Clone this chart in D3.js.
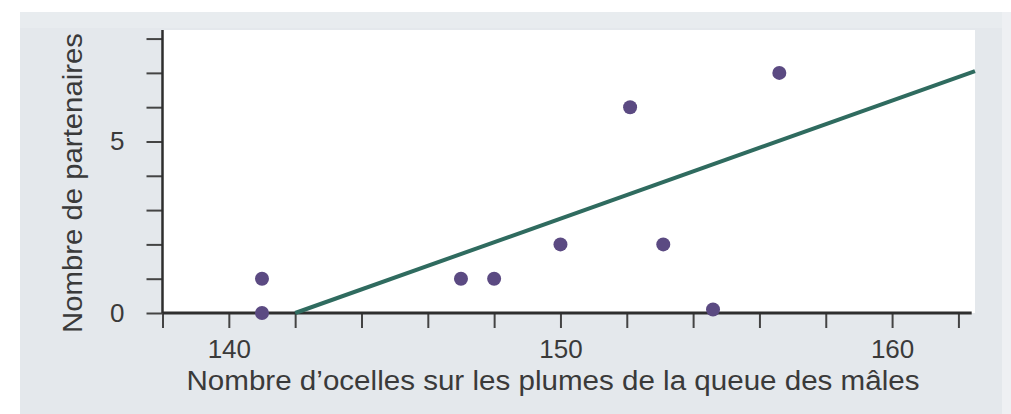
<!DOCTYPE html>
<html>
<head>
<meta charset="utf-8">
<script src="https://cdn.jsdelivr.net/npm/d3@7"></script>
<style>
  html, body { margin: 0; padding: 0; background: #ffffff; }
  svg { display: block; }
  text { font-family: "Liberation Sans", Arial, sans-serif; fill: #3a3a3a; }
</style>
</head>
<body>
<svg id="chart" width="1011" height="414"></svg>
<script>
// Ocelles on the male's tail feathers vs. number of mating partners
const ocelles    = [141, 141, 147, 148, 150, 152.1, 153.1, 154.6, 156.6];
const partenaires = [1,   0,   1,   1,   2,   6,     2,     0.1,   7];

// Least-squares trend line, given by its two end points
const trendX = [142, 162.5];
const trendY = [0, 7.05];

const xTicks = [138, 140, 142, 144, 146, 148, 150, 152, 154, 156, 158, 160, 162];
const xTickLabels = [140, 150, 160];
const yTicks = [0, 1, 2, 3, 4, 5, 6, 7, 8];
const yTickLabels = [0, 5];

const xTitle = "Nombre d\u2019ocelles sur les plumes de la queue des mâles";
const yTitle = "Nombre de partenaires";

const svg = d3.select("#chart");

// Background panel
svg.append("rect").attr("x", 20).attr("y", 12).attr("width", 982).attr("height", 402)
  .attr("fill", "#e4e8ec");
svg.append("rect").attr("x", 1002).attr("y", 12).attr("width", 9).attr("height", 402)
  .attr("fill", "#eef0f3");
svg.append("rect").attr("x", 20).attr("y", 12).attr("width", 982).attr("height", 16)
  .attr("fill", "#e8ecef");

const x = d3.scaleLinear().domain([138, 162.5]).range([162.5, 975]);
const y = d3.scaleLinear().domain([0, 8.25]).range([313, 30]);

// Plot area
svg.append("rect")
  .attr("x", x(138)).attr("y", y(8.25))
  .attr("width", x(162.5) - x(138)).attr("height", y(0) - y(8.25))
  .attr("fill", "#ffffff");

// X axis
const xAxis = d3.axisBottom(x)
  .tickValues(xTicks)
  .tickSize(15)
  .tickPadding(8)
  .tickFormat(d => xTickLabels.includes(d) ? d : "");
const gx = svg.append("g").attr("transform", `translate(0,${y(0)})`).call(xAxis);
gx.select(".domain").remove();
gx.selectAll(".tick line").attr("stroke", "#444").attr("stroke-width", 2);
gx.selectAll(".tick text").attr("font-size", 26).attr("fill", "#3a3a3a").attr("dy", "0.85em");
gx.append("line").attr("x1", x(138)).attr("x2", x(162.4))
  .attr("stroke", "#2e2e2e").attr("stroke-width", 3);

// Y axis
const yAxis = d3.axisLeft(y)
  .tickValues(yTicks)
  .tickSize(16)
  .tickPadding(22)
  .tickFormat(d => yTickLabels.includes(d) ? d : "");
const gy = svg.append("g").attr("transform", `translate(${x(138)},0)`).call(yAxis);
gy.select(".domain").remove();
gy.selectAll(".tick line").attr("stroke", "#444").attr("stroke-width", 2);
gy.selectAll(".tick text").attr("font-size", 26).attr("fill", "#3a3a3a");
gy.append("line").attr("y1", y(0)).attr("y2", y(8.25))
  .attr("stroke", "#2e2e2e").attr("stroke-width", 2.5);

// Trend line
svg.append("line")
  .attr("x1", x(trendX[0])).attr("y1", y(trendY[0]))
  .attr("x2", x(trendX[1])).attr("y2", y(trendY[1]))
  .attr("stroke", "#2f6b5f").attr("stroke-width", 4);

// Data points
svg.append("g").selectAll("circle")
  .data(ocelles.map((v, i) => [v, partenaires[i]]))
  .join("circle")
  .attr("cx", d => x(d[0]))
  .attr("cy", d => y(d[1]))
  .attr("r", 7)
  .attr("fill", "#5b4a82");

// Axis titles
svg.append("text")
  .attr("x", 553).attr("y", 390)
  .attr("text-anchor", "middle")
  .attr("font-size", 27)
  .attr("textLength", 733)
  .attr("lengthAdjust", "spacingAndGlyphs")
  .text(xTitle);

svg.append("text")
  .attr("transform", `translate(82,183) rotate(-90)`)
  .attr("text-anchor", "middle")
  .attr("font-size", 27)
  .attr("textLength", 300)
  .attr("lengthAdjust", "spacingAndGlyphs")
  .text(yTitle);
</script>
</body>
</html>
